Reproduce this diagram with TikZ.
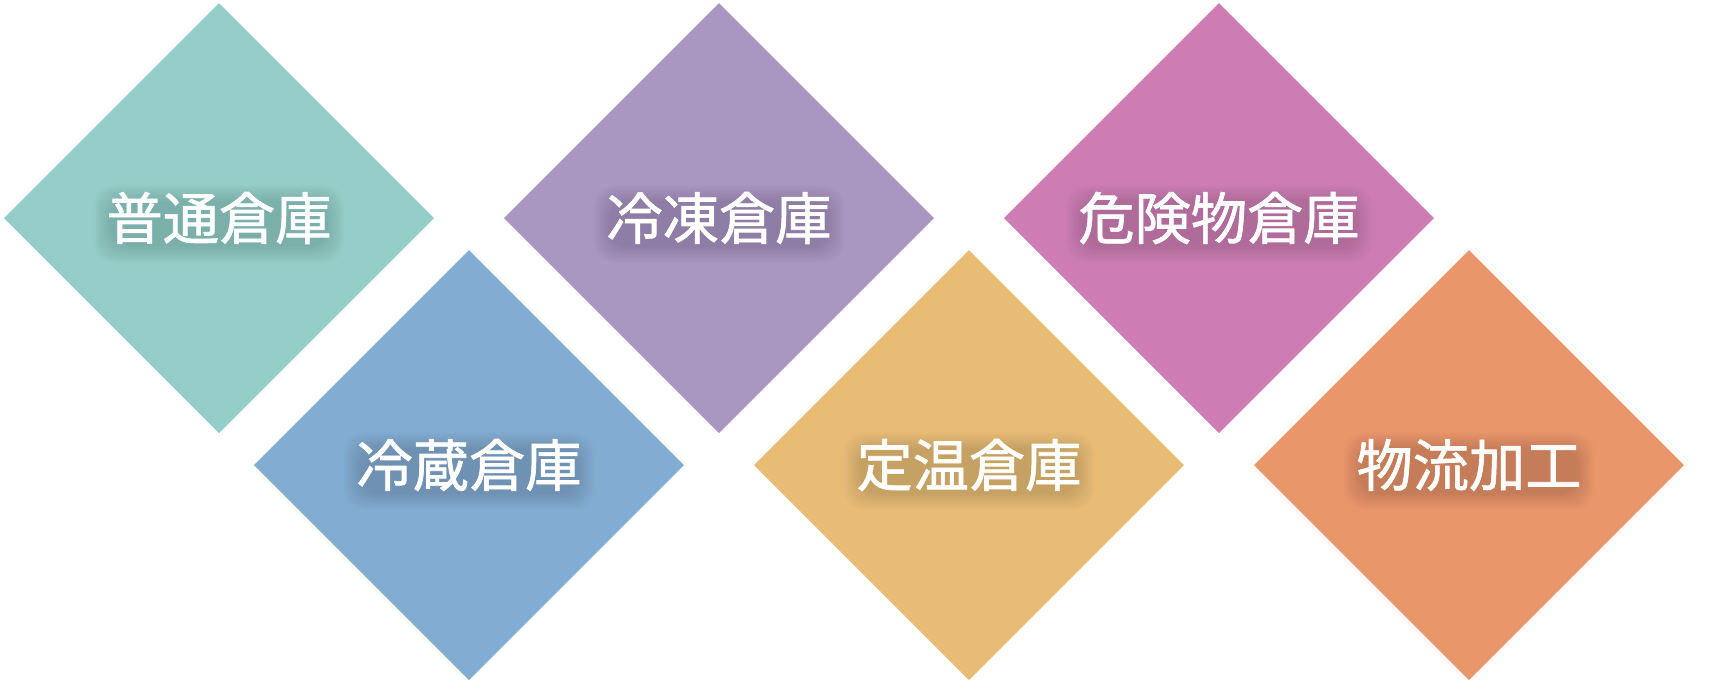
\documentclass[tikz,border=0pt]{standalone}
\usepackage{fontspec}
\newfontfamily\jpfont[FakeBold=1.2]{Noto Sans CJK JP}
\usepackage{tikz}
\usetikzlibrary{shapes.geometric, positioning, calc, backgrounds}
\pgfdeclarelayer{shade}
\pgfsetlayers{background,shade,main}
\definecolor{cteal}{HTML}{95CEC8}
\definecolor{cblue}{HTML}{83ACD2}
\definecolor{cpurple}{HTML}{A997C1}
\definecolor{cyellow}{HTML}{E9BC76}
\definecolor{cpink}{HTML}{CE7DB4}
\definecolor{corange}{HTML}{E9966B}
\tikzstyle{tile} = [diamond, minimum width=4.30cm, minimum height=4.30cm, inner sep=0pt, outer sep=0pt, draw=none]
\tikzstyle{lbl} = [text=white, font=\jpfont\fontsize{16}{18}\selectfont, inner sep=0pt]
\tikzstyle{shadelayer} = [fill=black, fill opacity=0.015, rounded corners=0.2cm]
% label with a soft shadow under it
\newcommand{\tilelabel}[3]{%
  \node[lbl] (#2) at (#1) {#3};
  \begin{pgfonlayer}{shade}
    \foreach \i in {0,...,8}
      \fill[shadelayer] ($(#2.south west)+(-0.02*\i+0.04,-0.02*\i-0.02)$)
        rectangle ($(#2.north east)+(0.02*\i-0.04,0.02*\i-0.10)$);
  \end{pgfonlayer}}

\begin{document}
\begin{tikzpicture}[node distance=0.70cm]
    \useasboundingbox (0,0) rectangle (17.28,-6.86);
    \begin{pgfonlayer}{background}
    % Tiles - top row
    \node[tile, fill=cteal] (normal) at (2.19,-2.18) {};
    \node[tile, fill=cpurple, right=0.70cm of normal] (frozen) {};
    \node[tile, fill=cpink, right=0.70cm of frozen] (hazard) {};

    % Tiles - bottom row
    \node[tile, fill=cblue, below right=0.32cm and 0.35cm of normal] (chilled) {};
    \node[tile, fill=cyellow, right=0.70cm of chilled] (constant) {};
    \node[tile, fill=corange, right=0.70cm of constant] (process) {};
    \end{pgfonlayer}

    % Labels
    \tilelabel{normal}{normal-t}{普通倉庫}
    \tilelabel{frozen}{frozen-t}{冷凍倉庫}
    \tilelabel{hazard}{hazard-t}{危険物倉庫}
    \tilelabel{chilled}{chilled-t}{冷蔵倉庫}
    \tilelabel{constant}{constant-t}{定温倉庫}
    \tilelabel{process}{process-t}{物流加工}
\end{tikzpicture}
\end{document}
